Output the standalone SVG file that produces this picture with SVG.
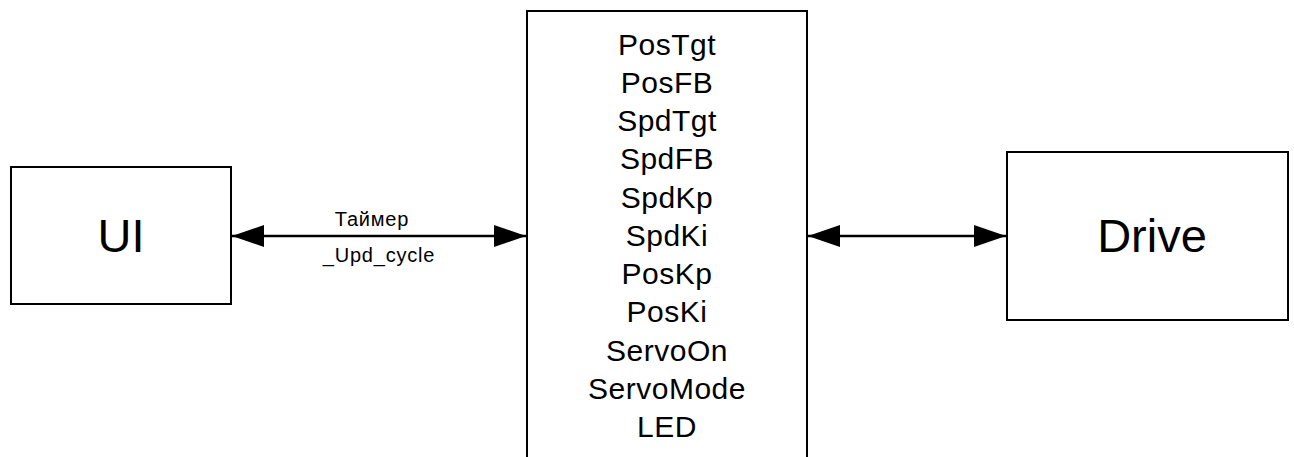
<svg xmlns="http://www.w3.org/2000/svg" width="1294" height="457" viewBox="0 0 1294 457">
<style>
.box{fill:#fff;stroke:#000;stroke-width:2}
.t{font-family:"Liberation Sans",Arial,sans-serif;fill:#000;text-anchor:middle}
.big{font-size:47px}
.list{font-size:30px;letter-spacing:0.5px}
.lbl{font-size:20px;letter-spacing:0.8px}
.conn{stroke:#000;stroke-width:2.5;fill:none}
</style>
<defs>
<marker id="ah" viewBox="0 0 32 22" refX="32" refY="11" markerWidth="32" markerHeight="22" markerUnits="userSpaceOnUse" orient="auto-start-reverse">
<path d="M0,0 L32,11 L0,22 Z" fill="#000"/>
</marker>
</defs>
<rect width="1294" height="457" fill="#fff"/>
<g id="ui">
<rect class="box" x="11" y="167" width="220" height="137"/>
<text class="t big" x="121" y="252">UI</text>
</g>
<g id="params">
<rect class="box" x="527" y="11" width="280" height="460"/>
<text class="t list" x="667" y="55">PosTgt</text>
<text class="t list" x="667" y="93">PosFB</text>
<text class="t list" x="667" y="131">SpdTgt</text>
<text class="t list" x="667" y="169">SpdFB</text>
<text class="t list" x="667" y="208">SpdKp</text>
<text class="t list" x="667" y="246">SpdKi</text>
<text class="t list" x="667" y="284">PosKp</text>
<text class="t list" x="667" y="322">PosKi</text>
<text class="t list" x="667" y="361">ServoOn</text>
<text class="t list" x="667" y="399">ServoMode</text>
<text class="t list" x="667" y="437">LED</text>
</g>
<g id="drive">
<rect class="box" x="1007" y="152" width="281" height="168"/>
<text class="t big" x="1152" y="252">Drive</text>
</g>
<g id="connectors">
<line class="conn" x1="232" y1="236" x2="526" y2="236" marker-start="url(#ah)" marker-end="url(#ah)"/>
<line class="conn" x1="808" y1="236" x2="1006" y2="236" marker-start="url(#ah)" marker-end="url(#ah)"/>
<text class="t lbl" x="372" y="226">Таймер</text>
<text class="t lbl" x="379" y="262">_Upd_cycle</text>
</g>
</svg>
